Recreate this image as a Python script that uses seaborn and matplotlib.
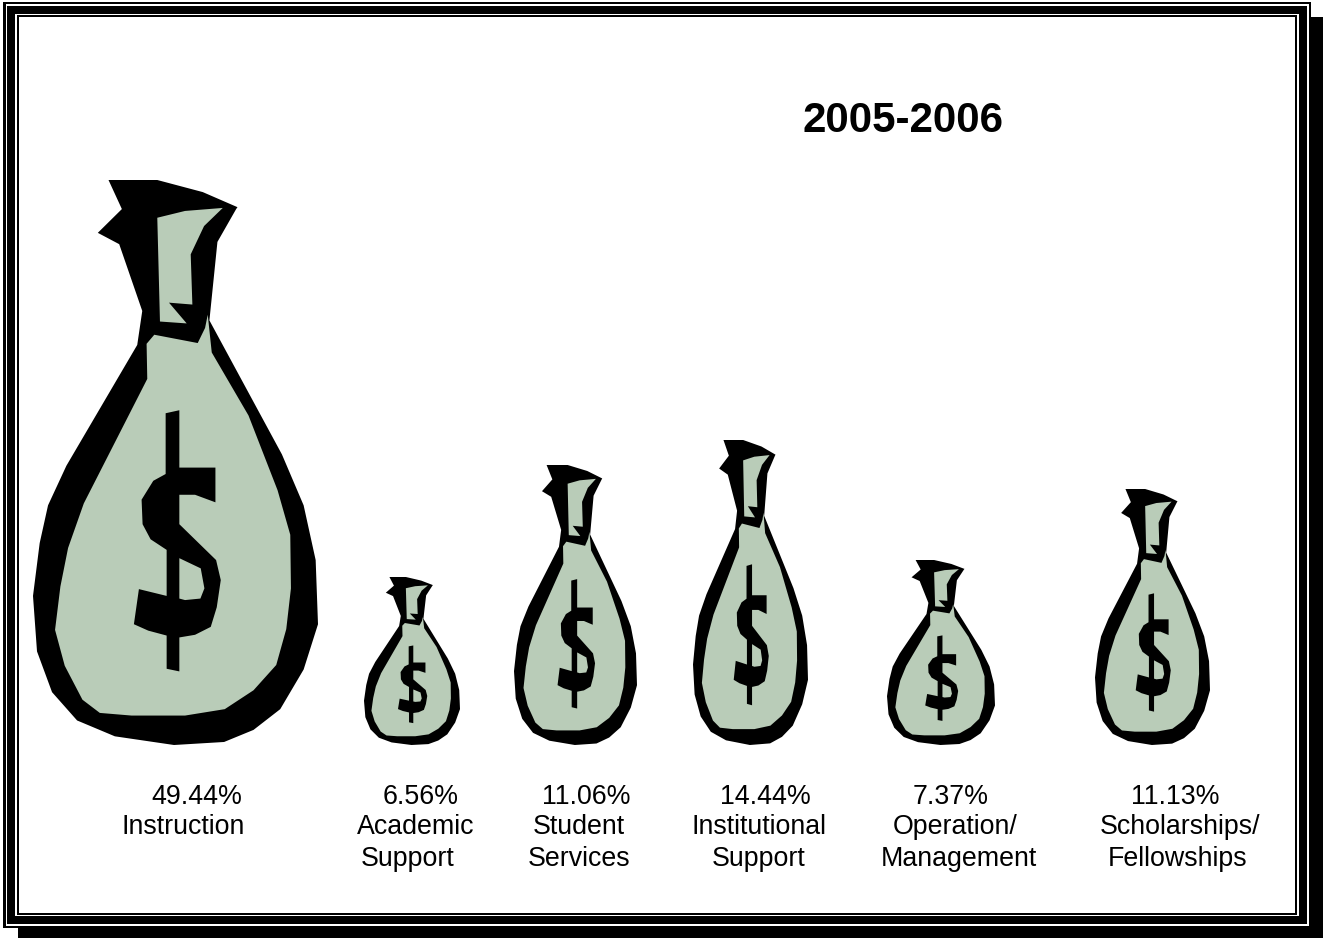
import matplotlib
matplotlib.use('Agg')
import matplotlib.pyplot as plt
from matplotlib.patches import Rectangle
import numpy as np
import pandas as pd
import seaborn as sns

# values
year_title = "2005-2006"
categories = ["Instruction", "Academic\nSupport", "Student\nServices",
              "Institutional\nSupport", "Operation/\nManagement", "Scholarships/\nFellowships"]
shares = [49.44, 6.56, 11.06, 14.44, 7.37, 11.13]
bag_heights = [565, 168, 280, 305, 185, 256]

# layout, in reference pixels
bag_centers = [175.5, 412, 575.5, 750.5, 941, 1152.5]
bag_widths = [285, 96, 123, 115, 108, 115]
share_x = [197, 420.5, 586, 765, 951, 1175]
line1_x = [183, 415.5, 579, 759, 955, 1179.5]
line2_x = [183, 407.5, 579, 759, 959, 1178]
W, H = 1323, 938
BASELINE = 745
GREEN = '#b9ccb8'

# money bag clip art, traced once and scaled to each bar's box
OUTLINE = [(266, 28), (412, 28), (548, 60), (652, 100), (648, 105), (592, 192), (568, 400),
           (785, 755), (850, 890), (886, 1035), (893, 1205), (850, 1325), (780, 1430),
           (700, 1485), (612, 1517), (462, 1525), (285, 1502), (172, 1460), (97, 1385),
           (52, 1277), (40, 1130), (60, 990), (85, 890), (140, 785), (352, 465), (367, 375),
           (298, 198), (234, 168), (306, 105)]
BODY = [(403, 438), (533, 460), (555, 420), (563, 385), (575, 485), (685, 652), (772, 850),
        (810, 968), (812, 1110), (798, 1218), (768, 1313), (700, 1380), (614, 1430),
        (495, 1447), (335, 1447), (240, 1440), (188, 1405), (135, 1315), (106, 1220),
        (122, 1105), (145, 1003), (192, 885), (382, 555), (380, 462)]
NECK = [(412, 128), (495, 110), (608, 102), (552, 150), (512, 225), (517, 358), (447, 353),
        (500, 408), (420, 403)]
DOLLAR = [(437, 646), (478, 638), (478, 790), (586, 790), (586, 882), (525, 862), (478, 862),
          (478, 940), (588, 1035), (602, 1088), (590, 1160), (572, 1212), (525, 1233),
          (478, 1240), (478, 1330), (440, 1323), (440, 1235), (385, 1222), (342, 1205),
          (357, 1112), (440, 1130), (440, 1008), (392, 980), (368, 940), (365, 875),
          (400, 825), (437, 807)]
DOLLAR_HOLE = [(478, 1030), (542, 1057), (553, 1110), (541, 1137), (495, 1141), (478, 1137)]


def draw_bag(ax, cx, width, height):
    xmin, xmax, ymin, ymax = 40, 893, 28, 1525
    for shape, color in [(OUTLINE, 'black'), (BODY, GREEN), (NECK, GREEN),
                         (DOLLAR, 'black'), (DOLLAR_HOLE, GREEN)]:
        pts = np.array(shape, dtype=float)
        xs = cx + ((pts[:, 0] - xmin) / (xmax - xmin) - 0.5) * width
        ys = (ymax - pts[:, 1]) / (ymax - ymin) * height
        ax.fill(xs, ys, color=color, lw=0)


sns.set_theme(style="white")
plt.rcParams['font.family'] = ['Liberation Sans', 'DejaVu Sans']

fig = plt.figure(figsize=(W / 100, H / 100), dpi=100, facecolor='white')

# page frame, with the drop shadow on the right and bottom
frame = fig.add_axes([0, 0, 1, 1])
frame.set_xlim(0, W)
frame.set_ylim(H, 0)
frame.axis('off')
for x0, y0, x1, y1, color in [(18, 17, W, H, 'black'), (3, 2, 1311, 928, 'black'),
                              (6, 4, 1309, 926, 'white'), (7, 6, 1307, 924, 'black'),
                              (15, 14, 1299, 916, 'white'), (17, 15, 1297, 915, 'black'),
                              (19, 17, 1295, 913, 'white')]:
    frame.add_patch(Rectangle((x0, y0), x1 - x0, y1 - y0, color=color, lw=0))

# bars set the box of each bag, then get hidden
ax = fig.add_axes([0, 0, 1, 1])
ax.patch.set_alpha(0)
df = pd.DataFrame({'center': bag_centers, 'height': bag_heights})
sns.barplot(data=df, x='center', y='height', native_scale=True, errorbar=None, width=10, ax=ax)
ax.axis('off')
for bar, w in zip(ax.patches, bag_widths):
    bar.set_visible(False)
    draw_bag(ax, bar.get_x() + bar.get_width() / 2, w, bar.get_height())
ax.set_xlim(0, W)
ax.set_ylim(BASELINE - H, BASELINE)

# text goes through the frame's pixel scale
text_kw = dict(transform=frame.transData, ha='center', va='center', color='black', zorder=5)
ax.text(903.5, 121, year_title, fontsize=30.3, fontweight='bold', **text_kw)
for share, name, sx, x1, x2 in zip(shares, categories, share_x, line1_x, line2_x):
    lines = name.split('\n')
    ax.text(sx, 797.5, f"{share:.2f}%", fontsize=19.3, **text_kw)
    ax.text(x1, 827.5, lines[0], fontsize=19.3, **text_kw)
    if len(lines) > 1:
        ax.text(x2, 859.5, lines[1], fontsize=19.3, **text_kw)

fig.savefig('out.png', dpi=100)
plt.close(fig)
